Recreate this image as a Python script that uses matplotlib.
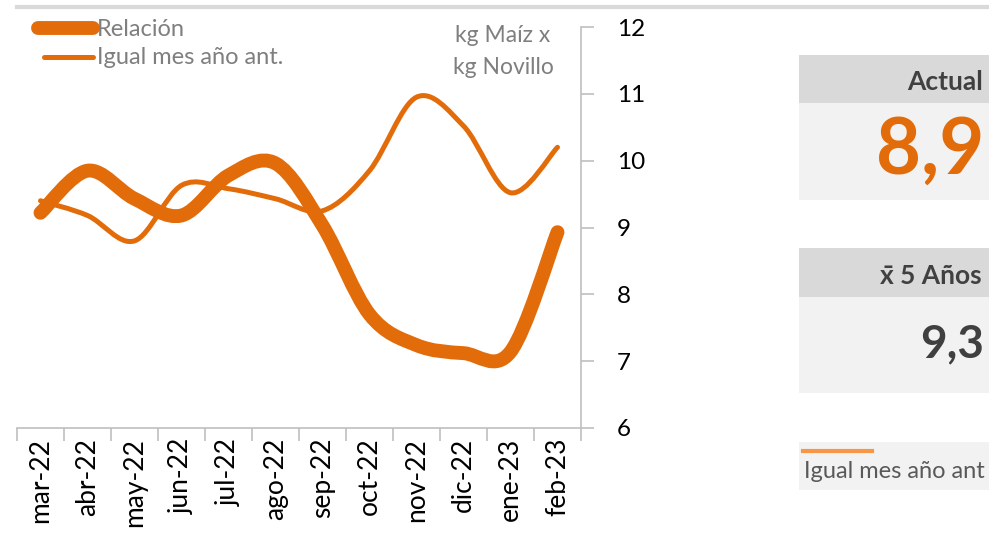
import matplotlib.pyplot as plt
from matplotlib.path import Path
from matplotlib.patches import PathPatch, Rectangle
from matplotlib.lines import Line2D

plt.rcParams['font.family'] = ['Lato', 'DejaVu Sans']

meses = ['mar-22', 'abr-22', 'may-22', 'jun-22', 'jul-22', 'ago-22',
         'sep-22', 'oct-22', 'nov-22', 'dic-22', 'ene-23', 'feb-23']
relacion = [9.22, 9.85, 9.43, 9.18, 9.78, 9.96, 9.03, 7.70, 7.24, 7.12, 7.14, 8.93]
igual_mes = [9.40, 9.18, 8.80, 9.63, 9.58, 9.43, 9.25, 9.85, 10.95, 10.52, 9.52, 10.20]
actual = '8,9'
prom5 = '9,3'

naranja = '#E36C0A'
gris_txt = '#7f7f7f'
gris_eje = '#bfbfbf'


def smooth_path(ys):
    # curva suave tipo Excel (bezier cubica por tramos)
    xs = list(range(len(ys)))
    pts = list(zip(xs, ys))
    verts = [pts[0]]
    codes = [Path.MOVETO]
    n = len(pts)
    for i in range(n - 1):
        p0 = pts[max(i - 1, 0)]
        p1 = pts[i]
        p2 = pts[i + 1]
        p3 = pts[min(i + 2, n - 1)]
        c1 = (p1[0] + (p2[0] - p0[0]) / 6, p1[1] + (p2[1] - p0[1]) / 6)
        c2 = (p2[0] - (p3[0] - p1[0]) / 6, p2[1] - (p3[1] - p1[1]) / 6)
        verts += [c1, c2, p2]
        codes += [Path.CURVE4] * 3
    return Path(verts, codes)


fig = plt.figure(figsize=(9.89, 5.39), dpi=100)
W, H = 989, 539
ax = fig.add_axes([17 / W, (H - 428) / H, (581 - 17) / W, (428 - 27) / H])

ax.add_patch(PathPatch(smooth_path(igual_mes), fill=False, edgecolor=naranja,
                       lw=3.6, capstyle='round', joinstyle='round'))
ax.add_patch(PathPatch(smooth_path(relacion), fill=False, edgecolor=naranja,
                       lw=10, capstyle='round', joinstyle='round'))

ax.set_xlim(-0.5, len(meses) - 0.5)
ax.set_ylim(6, 12)
ax.set_xticks(range(len(meses)))
ax.set_xticklabels(meses, rotation=90, fontsize=19, color='black')
ax.set_xticks([i - 0.5 for i in range(len(meses) + 1)], minor=True)
ax.tick_params(axis='x', which='major', length=0, pad=7)
ax.tick_params(axis='x', which='minor', length=9, color=gris_eje, width=1.2)
ax.yaxis.tick_right()
ax.set_yticks(range(6, 13))
ax.tick_params(axis='y', length=9, color=gris_eje, width=1.2, labelsize=17.5, pad=17)
for s in ['top', 'left']:
    ax.spines[s].set_visible(False)
for s in ['bottom', 'right']:
    ax.spines[s].set_color(gris_eje)
    ax.spines[s].set_linewidth(1.2)

# leyenda
fig.add_artist(Line2D([38 / W, 93 / W], [1 - 28 / H] * 2, color=naranja, lw=10, solid_capstyle='round'))
fig.add_artist(Line2D([44 / W, 93 / W], [1 - 57 / H] * 2, color=naranja, lw=3.6, solid_capstyle='round'))
fig.text(97 / W, 1 - 29 / H, 'Relación', fontsize=17, color=gris_txt, va='center')
fig.text(97 / W, 1 - 58 / H, 'Igual mes año ant.', fontsize=17, color=gris_txt, va='center')
fig.text(503 / W, 1 - 35 / H, 'kg Maíz x', fontsize=16.5, color=gris_txt, va='center', ha='center')
fig.text(503 / W, 1 - 67 / H, 'kg Novillo', fontsize=16.5, color=gris_txt, va='center', ha='center')

# linea superior
fig.add_artist(Line2D([17 / W, 1], [1 - 7 / H] * 2, color='#d9d9d9', lw=3))

# paneles de la derecha
def caja(y0, y1, color):
    fig.patches.append(Rectangle((799 / W, 1 - y1 / H), (W - 799) / W, (y1 - y0) / H,
                                 transform=fig.transFigure, facecolor=color, edgecolor='none'))

caja(55, 103, '#d9d9d9')
caja(103, 200, '#f2f2f2')
caja(248, 297, '#d9d9d9')
caja(297, 393, '#f2f2f2')
caja(442, 490, '#f2f2f2')

fig.text(907 / W, 1 - 82 / H, 'Actual', fontsize=19, fontweight='bold', color='#404040', va='center')
fig.text(876 / W, 1 - 152 / H, actual, fontsize=56, fontweight='bold', color=naranja, va='center')
fig.text(880 / W, 1 - 276 / H, 'x\u0304 5 Años', fontsize=19, fontweight='bold', color='#404040', va='center')
fig.text(920 / W, 1 - 344 / H, prom5, fontsize=33, fontweight='bold', color='#404040', va='center')
fig.add_artist(Line2D([803 / W, 872 / W], [1 - 451 / H] * 2, color='#F79646', lw=3))
fig.text(804 / W, 1 - 472 / H, 'Igual mes año ant', fontsize=17, color='#595959', va='center')

fig.savefig('out.png', dpi=100)
